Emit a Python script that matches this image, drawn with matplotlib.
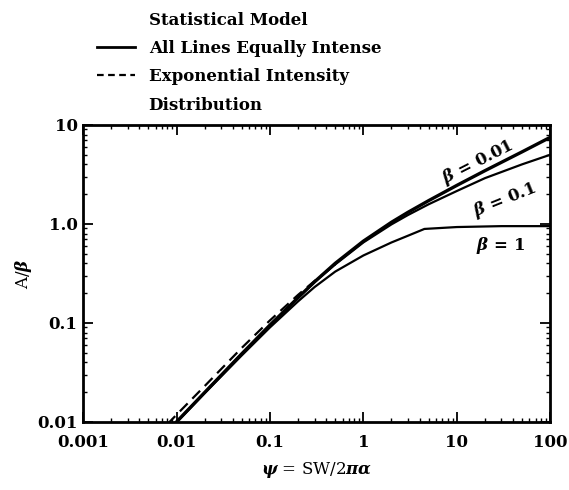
import matplotlib
matplotlib.use('Agg')
import matplotlib.pyplot as plt
from matplotlib.lines import Line2D
from matplotlib import ticker

# значения
psi = [0.0095, 0.02, 0.05, 0.1, 0.2, 0.3, 0.5, 1, 2, 3, 5, 10, 20, 50, 100]
beta_001 = [0.0095, 0.0198, 0.0488, 0.095, 0.18, 0.26, 0.40, 0.67, 1.04, 1.31, 1.72, 2.45, 3.45, 5.35, 7.5]
beta_01 = [0.0095, 0.0198, 0.0488, 0.095, 0.18, 0.258, 0.39, 0.65, 0.99, 1.23, 1.58, 2.15, 2.9, 4.0, 5.0]
psi_1 = [0.0095, 0.02, 0.05, 0.1, 0.2, 0.3, 0.5, 1, 2, 3, 4.5, 10, 30, 100]
beta_1 = [0.0094, 0.0195, 0.047, 0.09, 0.165, 0.23, 0.33, 0.48, 0.65, 0.76, 0.89, 0.93, 0.95, 0.95]

psi_exp = [0.008, 0.01, 0.02, 0.05, 0.1, 0.2, 0.3, 0.5]
exp_vals = [0.0095, 0.0118, 0.023, 0.056, 0.106, 0.192, 0.265, 0.39]

xticks = [0.001, 0.01, 0.1, 1, 10, 100]
xlabels = ['0.001', '0.01', '0.1', '1', '10', '100']
yticks = [0.01, 0.1, 1, 10]
ylabels = ['0.01', '0.1', '1.0', '10']

plt.rcParams['font.family'] = 'DejaVu Serif'
plt.rcParams['font.weight'] = 'bold'
plt.rcParams['mathtext.fontset'] = 'dejavuserif'

fig = plt.figure(figsize=(5.69, 4.90), dpi=100)
ax = fig.add_axes([0.146, 0.139, 0.821, 0.606])

ax.plot(psi, beta_001, color='black', lw=2.4)
ax.plot(psi, beta_01, color='black', lw=1.6)
ax.plot(psi_1, beta_1, color='black', lw=1.6)
ax.plot(psi_exp, exp_vals, color='black', lw=1.6, ls=(0, (5, 3)))

ax.set_xscale('log')
ax.set_yscale('log')
ax.set_xlim(0.001, 100)
ax.set_ylim(0.01, 10)

ax.xaxis.set_major_locator(ticker.FixedLocator(xticks))
ax.xaxis.set_major_formatter(ticker.FixedFormatter(xlabels))
ax.yaxis.set_major_locator(ticker.FixedLocator(yticks))
ax.yaxis.set_major_formatter(ticker.FixedFormatter(ylabels))
ax.tick_params(which='both', direction='in', top=True, right=True, labelsize=12)
ax.tick_params(which='major', length=7, width=1.3)
ax.tick_params(which='minor', length=3, width=1)
ax.tick_params(axis='x', which='major', pad=9)
ax.tick_params(axis='y', which='major', pad=4)
for s in ax.spines.values():
    s.set_linewidth(2)

ax.text(17, 4.2, r'$\beta$ = 0.01', rotation=27, ha='center', va='center', fontsize=12)
ax.text(33, 1.75, r'$\beta$ = 0.1', rotation=22, ha='center', va='center', fontsize=12)
ax.text(29, 0.61, r'$\beta$ = 1', ha='center', va='center', fontsize=12)

ax.set_ylabel(r'A/$\beta$', fontsize=12, labelpad=2)
ax.set_xlabel(r'$\psi$ = SW/2$\pi\alpha$', fontsize=12, labelpad=6)

# легенда: заголовок и продолжение подписи без маркера
handles = [Line2D([], [], color='none'),
           Line2D([], [], color='black', lw=2),
           Line2D([], [], color='black', lw=1.6, ls=(0, (3, 2))),
           Line2D([], [], color='none')]
labels = ['Statistical Model', 'All Lines Equally Intense', 'Exponential Intensity', 'Distribution']
fig.legend(handles, labels, loc='upper left', bbox_to_anchor=(0.15, 1.0), frameon=False,
           fontsize=12, handlelength=2.3, handletextpad=0.8, labelspacing=0.68,
           borderaxespad=0.3)

fig.savefig('out.png', dpi=100)
